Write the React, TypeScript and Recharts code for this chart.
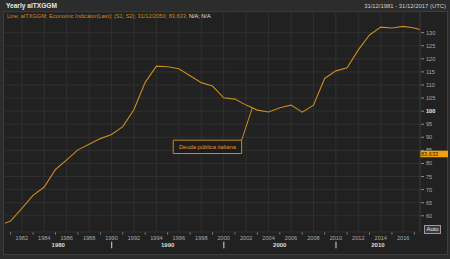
import { LineChart, Line, XAxis, YAxis, CartesianGrid, ReferenceLine, ReferenceArea } from 'recharts';

const years = [1980, 1981, 1982, 1983, 1984, 1985, 1986, 1987, 1988, 1989, 1990, 1991, 1992, 1993, 1994, 1995, 1996, 1997, 1998, 1999,
    2000, 2001, 2002, 2003, 2004, 2005, 2006, 2007, 2008, 2009, 2010, 2011, 2012, 2013, 2014, 2015, 2016, 2017, 2018];
const debt = [56.3, 58.0, 62.8, 67.8, 71.0, 77.7, 81.4, 85.2, 87.3, 89.5, 91.1, 94.1, 100.6, 111.0, 117.2, 117.0, 116.2, 113.5, 110.9, 109.6,
    105.1, 104.6, 102.3, 100.4, 99.7, 101.3, 102.3, 99.6, 102.3, 112.5, 115.4, 116.6, 123.4, 129.1, 132.1, 131.8, 132.4, 131.8, 130.5];

const yTicks = [60, 65, 70, 75, 80, 85, 90, 95, 100, 105, 110, 115, 120, 125, 130];
const yearTicks = [1981, 1982, 1983, 1984, 1985, 1986, 1987, 1988, 1989, 1990, 1991, 1992, 1993, 1994, 1995, 1996, 1997, 1998, 1999,
    2000, 2001, 2002, 2003, 2004, 2005, 2006, 2007, 2008, 2009, 2010, 2011, 2012, 2013, 2014, 2015, 2016, 2017];
const gridYears = [1982, 1984, 1986, 1988, 1990, 1992, 1994, 1996, 1998, 2000, 2002, 2004, 2006, 2008, 2010, 2012, 2014, 2016];
const decadeLabels = ['1980', '1990', '2000', '2010'];
const decadeCenters = [1985.25, 1995, 2005, 2013.75];
const decadeBreaks = [1990, 2000, 2010];

const lastValue = 83.633;
const annoText = 'Deuda pública italiana';
const annoAnchor = { x: 2002.55, y: 101.3 };
const annoBox = { x1: 1995.5, x2: 2001.6, y1: 83.8, y2: 88.9 };

const data = years.map((year, i) => ({ year, debt: debt[i] }));

const ORANGE = '#c98a1f';
const FONT = '"Liberation Sans", Arial, sans-serif';

function YearTick({ x, y, payload }: any) {
    const v = payload.value;
    if (v % 2 === 1) {
        return <line x1={x} x2={x} y1={y + 0.5} y2={y + 2.5} stroke="#8a8a8a" />;
    }
    return (
        <text x={x} y={y + 7.8} textAnchor="middle" fontSize={5.6} fill="#a8a8a8" fontFamily={FONT}>{v}</text>
    );
}

function DecadeTick({ x, y, payload }: any) {
    const v = payload.value;
    const idx = decadeCenters.indexOf(v);
    if (idx >= 0) {
        return (
            <text x={x} y={y + 4.8} textAnchor="middle" fontSize={6} fontWeight="bold" fill="#dcdcdc" fontFamily={FONT}>
                {decadeLabels[idx]}
            </text>
        );
    }
    return <rect x={x - 0.5} y={y - 0.3} width={1.2} height={6.6} fill="#bbbbbb" />;
}

function PriceTick({ x, y, payload }: any) {
    const bold = payload.value === 100;
    return (
        <g>
            <line x1={x + 1} x2={x + 4} y1={y} y2={y} stroke="#8a8a8a" />
            <text x={x + 6} y={y + 2} fontSize={5.6} fill={bold ? '#eeeeee' : '#a8a8a8'} fontWeight={bold ? 'bold' : 'normal'} fontFamily={FONT}>
                {payload.value}
            </text>
        </g>
    );
}

function LastLabel({ viewBox }: any) {
    const x = viewBox.x + viewBox.width;
    const y = viewBox.y;
    return (
        <g>
            <rect x={x} y={y - 3.3} width={28} height={6.6} fill="#f2a10c" />
            <text x={x + 1} y={y + 2} fontSize={5.6} fill="#2a1a00" fontFamily={FONT}>{lastValue.toFixed(3).replace('.', ',')}</text>
        </g>
    );
}

function AnnoLabel({ viewBox }: any) {
    return (
        <text x={viewBox.x + viewBox.width / 2} y={viewBox.y + viewBox.height / 2 + 2} textAnchor="middle" fontSize={5.8} fill="#e09a2a" fontFamily={FONT}>
            {annoText}
        </text>
    );
}

export default function App() {
    return (
        <div style={{ position: 'absolute', left: 0, top: 0, width: 450, height: 259, background: '#2c2c2c', overflow: 'hidden', fontFamily: FONT }}>
            {/* inner panel */}
            <div style={{ position: 'absolute', left: 3, top: 11, width: 443, height: 242, background: '#212121', border: '1px solid #3e3e3e' }} />
            <div style={{ position: 'absolute', left: 6, top: 2, fontSize: 6.6, fontWeight: 'bold', color: '#e6e6e6' }}>Yearly aITXGGM</div>
            <div style={{ position: 'absolute', right: 4, top: 2.5, fontSize: 5.9, color: '#cfcfcf' }}>31/12/1981 - 31/12/2017 (UTC)</div>

            <LineChart
                width={450}
                height={259}
                data={data}
                margin={{ top: 12, right: 0, bottom: 0, left: 5 }}
                style={{ position: 'absolute', left: 0, top: 0 }}
            >
                <CartesianGrid stroke="#303030" strokeWidth={1} verticalValues={gridYears} />
                <XAxis
                    dataKey="year"
                    type="number"
                    domain={[1980.5, 2017.5]}
                    allowDataOverflow
                    ticks={yearTicks}
                    interval={0}
                    height={10}
                    tickSize={0}
                    tickMargin={0}
                    tickLine={false}
                    axisLine={false}
                    tick={<YearTick />}
                />
                <XAxis
                    xAxisId="dec"
                    dataKey="year"
                    type="number"
                    domain={[1980.5, 2017.5]}
                    allowDataOverflow
                    ticks={[...decadeCenters, ...decadeBreaks].sort((a, b) => a - b)}
                    interval={0}
                    height={17}
                    tickSize={0}
                    tickMargin={0}
                    tickLine={false}
                    axisLine={false}
                    tick={<DecadeTick />}
                />
                <YAxis
                    orientation="right"
                    domain={[53.8, 137.9]}
                    allowDataOverflow
                    ticks={yTicks}
                    interval={0}
                    width={30}
                    tickSize={0}
                    tickMargin={0}
                    tickLine={false}
                    axisLine={{ stroke: '#3c3c3c' }}
                    tick={<PriceTick />}
                />
                <Line
                    type="linear"
                    dataKey="debt"
                    stroke={ORANGE}
                    strokeWidth={1.1}
                    dot={false}
                    isAnimationActive={false}
                />
                <ReferenceLine
                    segment={[annoAnchor, { x: annoBox.x2, y: annoBox.y2 }]}
                    stroke={ORANGE}
                    strokeWidth={1}
                />
                <ReferenceArea
                    x1={annoBox.x1}
                    x2={annoBox.x2}
                    y1={annoBox.y1}
                    y2={annoBox.y2}
                    fill="#1d1d1d"
                    fillOpacity={1}
                    stroke={ORANGE}
                    strokeWidth={1}
                    label={<AnnoLabel />}
                />
                <ReferenceLine y={lastValue} stroke="none" label={<LastLabel />} />
            </LineChart>

            <div style={{ position: 'absolute', left: 7, top: 12.5, fontSize: 5.6, color: '#d08a1c', whiteSpace: 'nowrap' }}>
                Line; aITXGGM; Economic Indicator(Last); (S1; S2); 31/12/2050; 83,633; <span style={{ color: '#e0e0e0' }}>N/A; N/A</span>
            </div>
            <div style={{ position: 'absolute', left: 424, top: 224.5, width: 15, height: 7, border: '1px solid #9a9a9a', background: '#3a3a3a', color: '#f0f0f0', fontSize: 5.8, lineHeight: '7px', textAlign: 'center' }}>
                Auto
            </div>
        </div>
    );
}
